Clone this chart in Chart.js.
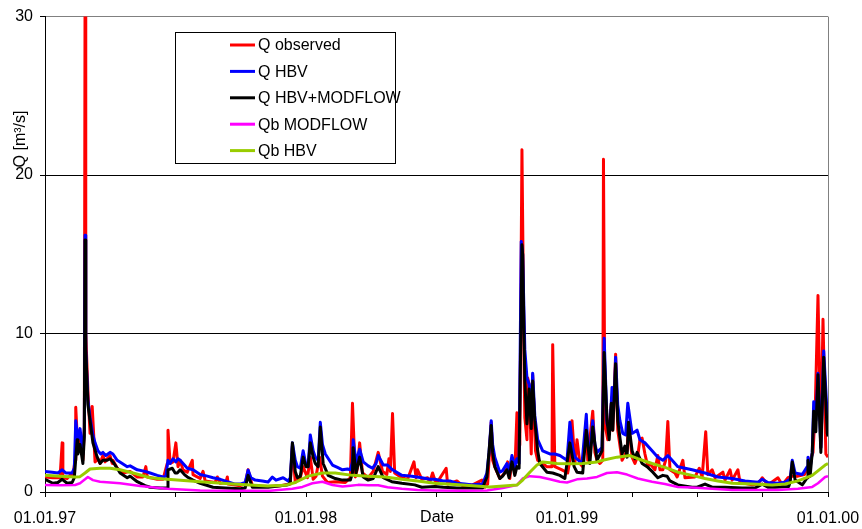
<!DOCTYPE html>
<html>
<head>
<meta charset="utf-8">
<script src="https://cdn.jsdelivr.net/npm/chart.js@4"></script>
<style>
  html, body { margin: 0; padding: 0; background: #fff; }
  #wrap { width: 862px; height: 529px; position: relative; }
</style>
</head>
<body>
<div id="wrap"><canvas id="runoff-chart"></canvas></div>
<script>
'use strict';

/* days counted from 01.01.97 */
const xTickDays   = [0, 91, 182, 274, 365, 456, 547, 639, 730, 821, 912, 1004, 1095];
const xTickLabels = ['01.01.97', '', '', '', '01.01.98', '', '', '', '01.01.99', '', '', '', '01.01.00'];
const yTickValues = [0, 10, 20, 30];

const seriesNames  = ['Q observed', 'Q HBV', 'Q HBV+MODFLOW', 'Qb MODFLOW', 'Qb HBV'];
const seriesColors = ['#ff0000', '#0000ff', '#000000', '#ff00ff', '#99cc00'];

// [day, m3/s]
const qObserved = [
    [0,0.95],[11,0.9],[21,0.9],[24,3.1],[25,0.9],[31,0.85],[38,1.2],[39,1.0],[42,2.0],[43,5.35],[46,2.6],[49,3.7],
    [53,2.0],[55,4.0],[56,31],[57,10],[60,6.4],[63,3.7],[66,5.4],[69,2.8],[70,1.9],[74,2.1],[77,1.8],[81,2.3],
    [84,1.9],[87,2.1],[91,2.3],[94,1.8],[95,2.0],[101,1.5],[109,1.2],[119,1.3],[129,0.95],[137,0.95],[141,1.6],
    [143,0.95],[157,0.8],[165,0.8],[171,1.8],[172,3.9],[175,1.8],[179,1.9],[183,3.1],[186,1.6],[189,2.0],[193,1.4],
    [199,1.25],[206,2.0],[207,1.1],[217,0.85],[221,1.3],[224,0.7],[238,0.6],[241,0.95],[245,0.55],[253,0.6],
    [255,0.95],[256,0.5],[273,0.4],[280,0.5],[284,1.4],[290,0.4],[312,0.35],[329,0.4],[343,0.5],[346,2.9],
    [350,0.6],[357,0.9],[361,1.6],[367,0.9],[371,2.2],[375,0.8],[379,1.0],[384,2.2],[388,1.0],[395,0.6],
    [406,0.65],[420,0.6],[427,0.9],[430,5.6],[434,0.95],[437,1.5],[440,3.1],[444,1.2],[452,0.9],[459,1.3],
    [466,2.5],[472,1.3],[478,1.1],[481,2.1],[483,1.3],[486,4.95],[489,1.2],[499,0.9],[507,0.8],[516,1.9],
    [519,0.9],[521,1.4],[527,0.8],[535,0.9],[538,0.6],[542,1.2],[547,0.5],[561,1.5],[563,0.5],[576,0.7],
    [584,0.4],[598,0.45],[611,0.75],[615,0.3],[619,0.5],[624,4.4],[626,2.0],[629,1.6],[636,0.85],[643,1.2],
    [647,1.9],[650,0.85],[653,2.1],[657,1.2],[660,5.0],[661,2.1],[664,3.0],[667,21.6],[670,8.0],[671,4.7],
    [674,3.3],[675,7.2],[677,6.8],[680,2.4],[682,7.4],[686,2.6],[689,2.0],[702,1.6],[709,1.6],[710,9.3],
    [713,1.6],[723,1.4],[731,1.2],[734,2.0],[737,4.5],[741,1.8],[744,3.3],[748,1.8],[752,1.6],[757,4.5],
    [759,2.0],[766,5.1],[769,2.5],[772,2.0],[776,1.8],[780,2.0],[781,21.0],[783,4.3],[787,3.3],[793,6.0],
    [794,3.9],[798,8.7],[801,3.9],[807,2.0],[814,2.6],[816,4.3],[821,2.2],[825,1.8],[829,2.3],[832,3.3],
    [835,3.4],[839,2.4],[843,1.6],[846,1.8],[853,1.4],[857,2.3],[860,1.4],[864,1.4],[868,2.0],[871,4.45],
    [874,1.4],[881,1.2],[884,0.95],[892,2.0],[895,0.9],[909,0.95],[915,1.5],[919,0.95],[924,3.8],[927,1.1],
    [933,1.4],[937,0.9],[948,1.25],[951,0.75],[958,1.4],[961,0.75],[969,1.4],[972,0.6],[989,0.45],[997,0.5],
    [1003,0.9],[1011,0.45],[1025,0.9],[1031,0.45],[1039,0.9],[1045,1.0],[1053,1.0],[1062,1.1],[1066,1.5],
    [1070,2.0],[1074,2.5],[1077,5.0],[1081,12.4],[1085,2.8],[1088,10.9],[1092,2.4],[1095,2.2]
];

const qHbv = [
    [0,1.3],[10,1.25],[18,1.2],[24,1.4],[29,1.2],[38,1.2],[41,1.5],[43,4.5],[46,3.3],[49,4.0],[53,2.4],[55,4.0],
    [56,16.2],[57,9.0],[60,5.8],[63,4.7],[67,3.6],[70,3.1],[74,2.6],[78,2.4],[81,2.5],[85,2.3],[88,2.4],[91,2.5],
    [95,2.4],[101,2.0],[108,1.8],[115,1.6],[119,1.65],[129,1.4],[140,1.3],[147,1.2],[157,1.05],[165,0.95],
    [169,1.0],[172,2.0],[175,1.8],[179,2.1],[183,1.9],[186,2.1],[189,2.0],[195,1.7],[199,1.5],[207,1.4],
    [217,1.1],[227,1.0],[235,0.9],[245,0.8],[255,0.65],[266,0.5],[273,0.5],[280,0.6],[284,1.38],[288,0.9],
    [294,0.75],[304,0.7],[312,0.63],[318,0.94],[323,0.75],[333,0.9],[340,0.7],[343,0.9],[346,3.1],[350,2.0],
    [353,1.6],[357,1.5],[361,2.6],[365,1.7],[368,1.6],[371,3.6],[375,2.6],[378,2.2],[382,2.0],[385,4.4],
    [388,3.0],[392,2.4],[402,1.7],[409,1.55],[416,1.4],[423,1.45],[427,1.4],[430,1.9],[431,3.3],[435,1.9],
    [440,2.7],[445,1.9],[452,1.65],[458,1.5],[463,1.8],[466,2.3],[473,1.7],[479,1.7],[486,1.4],[499,1.05],
    [513,1.0],[527,0.9],[538,0.8],[545,0.8],[557,0.7],[566,0.7],[576,0.55],[587,0.5],[598,0.45],[612,0.5],
    [618,1.2],[621,2.5],[624,4.5],[626,3.0],[629,2.2],[636,1.25],[640,1.35],[646,1.8],[649,1.25],[653,2.3],
    [657,1.6],[660,2.1],[663,1.8],[666,15.8],[668,15.0],[671,9.0],[674,7.2],[677,6.8],[680,5.0],[682,7.5],
    [685,4.8],[689,3.3],[696,2.6],[706,2.4],[713,2.4],[720,2.3],[730,2.0],[734,4.4],[738,2.8],[741,2.2],
    [751,1.8],[757,4.9],[759,3.0],[762,2.6],[766,4.5],[769,3.0],[772,2.5],[779,2.8],[782,9.7],[786,4.3],
    [790,3.9],[793,6.6],[796,5.8],[798,8.5],[801,5.5],[804,4.5],[808,3.7],[812,3.6],[815,5.6],[821,3.7],
    [825,3.8],[828,3.9],[832,3.3],[839,3.1],[849,2.6],[857,2.2],[864,2.0],[871,2.3],[877,2.0],[885,1.6],
    [895,1.5],[905,1.4],[923,1.2],[941,0.95],[961,0.85],[979,0.7],[997,0.62],[1003,0.8],[1011,0.6],
    [1025,0.55],[1035,0.62],[1042,0.8],[1045,2.0],[1049,1.2],[1059,1.1],[1066,1.6],[1067,2.2],[1070,1.5],
    [1073,2.5],[1075,5.7],[1078,4.5],[1081,7.5],[1085,2.8],[1089,8.9],[1094,4.7],[1095,4.0]
];

const qHbvModflow = [
    [0,0.8],[11,0.55],[18,0.6],[24,0.8],[31,0.55],[38,0.6],[41,0.9],[45,3.3],[46,2.4],[49,3.0],[53,1.8],[55,3.5],
    [56,15.9],[57,9.0],[60,5.5],[63,4.5],[67,3.1],[73,2.2],[77,1.8],[81,2.0],[87,2.0],[91,2.1],[95,1.9],
    [101,1.5],[105,1.2],[115,0.9],[119,1.0],[129,0.65],[140,0.4],[147,0.3],[161,0.25],[171,0.25],[172,1.4],
    [178,1.5],[182,1.2],[185,1.2],[189,1.4],[195,1.1],[199,0.95],[207,0.75],[217,0.55],[235,0.3],[252,0.25],
    [273,0.2],[280,0.25],[284,1.05],[290,0.3],[301,0.3],[312,0.3],[329,0.4],[340,0.45],[343,0.6],[346,3.1],
    [350,1.3],[353,0.9],[357,1.0],[361,2.2],[365,1.6],[368,1.6],[371,3.1],[375,2.2],[378,1.8],[382,1.6],
    [385,4.1],[389,1.8],[396,1.05],[406,0.85],[416,0.75],[427,0.75],[430,1.2],[431,2.8],[435,1.2],[440,2.2],
    [445,0.95],[452,0.75],[459,0.85],[466,1.6],[473,0.9],[485,0.65],[499,0.55],[517,0.45],[527,0.3],
    [545,0.35],[557,0.3],[576,0.25],[594,0.25],[612,0.25],[618,0.95],[624,4.2],[626,2.5],[629,1.6],
    [636,0.85],[640,1.0],[646,1.4],[649,0.9],[653,1.9],[657,1.05],[660,1.6],[663,1.5],[667,15.6],[668,15.0],
    [671,7.0],[674,4.3],[677,6.5],[680,4.0],[682,7.0],[685,4.5],[689,2.6],[692,1.8],[702,1.25],[710,1.2],
    [720,1.05],[727,0.85],[734,3.1],[740,1.6],[744,1.25],[752,1.2],[757,3.9],[762,1.8],[766,4.1],[772,2.0],
    [779,2.6],[782,8.8],[786,4.5],[789,3.3],[792,5.6],[794,3.9],[798,8.1],[801,4.5],[807,2.4],[811,2.9],
    [814,2.2],[816,4.4],[821,2.6],[825,2.1],[828,2.5],[832,2.1],[835,1.8],[842,1.6],[850,1.25],[857,0.9],
    [864,1.05],[870,1.0],[874,0.7],[885,0.45],[905,0.3],[912,0.3],[923,0.5],[933,0.3],[951,0.3],[975,0.25],
    [993,0.25],[1003,0.5],[1011,0.3],[1021,0.3],[1040,0.35],[1042,0.6],[1045,1.9],[1049,0.75],[1059,0.45],
    [1066,0.9],[1067,2.0],[1070,1.0],[1073,2.5],[1075,5.1],[1078,3.8],[1081,7.4],[1085,2.5],[1089,8.5],
    [1094,3.7],[1095,3.5]
];

const qbModflow = [
    [0,0.44],[21,0.42],[42,0.44],[49,0.55],[56,0.8],[60,0.95],[67,0.75],[77,0.65],[105,0.55],[133,0.38],
    [171,0.2],[217,0.1],[263,0.08],[315,0.08],[346,0.2],[360,0.32],[374,0.55],[388,0.65],[402,0.44],
    [416,0.35],[427,0.4],[438,0.45],[452,0.42],[466,0.42],[479,0.3],[499,0.2],[521,0.13],[545,0.1],
    [584,0.08],[618,0.1],[640,0.25],[660,0.44],[668,0.85],[678,1.0],[692,0.95],[706,0.8],[720,0.65],
    [730,0.6],[744,0.8],[758,0.85],[772,0.95],[786,1.2],[800,1.25],[814,1.1],[829,0.85],[849,0.65],
    [867,0.5],[885,0.32],[905,0.28],[933,0.2],[961,0.13],[997,0.12],[1025,0.13],[1053,0.2],[1073,0.32],
    [1081,0.55],[1091,0.95],[1095,1.0]
];

const qbHbv = [
    [0,1.05],[21,1.0],[42,0.95],[49,0.97],[56,1.2],[63,1.45],[77,1.5],[91,1.5],[105,1.4],[123,1.2],[147,0.9],
    [171,0.8],[217,0.65],[263,0.5],[311,0.38],[336,0.42],[350,0.6],[368,1.0],[388,1.2],[406,1.2],[430,1.05],
    [452,1.0],[476,0.95],[499,0.8],[521,0.7],[545,0.55],[584,0.44],[622,0.32],[660,0.44],[668,0.75],
    [678,1.25],[688,1.7],[696,1.9],[716,1.8],[734,1.78],[752,1.8],[772,1.9],[780,2.0],[800,2.2],[818,2.3],
    [829,2.1],[849,1.8],[867,1.55],[885,1.25],[905,1.05],[923,0.85],[941,0.7],[961,0.55],[989,0.5],
    [1017,0.44],[1035,0.5],[1053,0.7],[1073,1.05],[1091,1.7],[1095,1.8]
];

const FONT = 'Liberation Sans, Arial, sans-serif';

const toPoints = arr => arr.map(([x, y]) => ({ x, y }));

const chartDecor = {
    id: 'chartDecor',
    afterDraw(chart) {
        const { ctx, chartArea: a } = chart;
        ctx.save();

        // right frame of the plot area
        ctx.strokeStyle = '#808080';
        ctx.lineWidth = 1;
        ctx.beginPath();
        ctx.moveTo(a.right + 0.5, a.top);
        ctx.lineTo(a.right + 0.5, a.bottom);
        ctx.stroke();

        ctx.fillStyle = '#000';
        ctx.font = `16px ${FONT}`;
        ctx.textAlign = 'center';
        ctx.textBaseline = 'middle';

        // axis titles
        ctx.fillText('Date', 437, 518);
        ctx.save();
        ctx.translate(21, 139);
        ctx.rotate(-Math.PI / 2);
        ctx.fillText('Q [m\u00b3/s]', 0, 0);
        ctx.restore();

        // legend box
        const bx = 175.5, by = 32.5, bw = 220, bh = 131;
        ctx.fillStyle = '#fff';
        ctx.fillRect(bx, by, bw, bh);
        ctx.strokeStyle = '#000';
        ctx.strokeRect(bx, by, bw, bh);

        ctx.textAlign = 'left';
        seriesNames.forEach((name, i) => {
            const y = 45 + i * 26.4;
            ctx.strokeStyle = seriesColors[i];
            ctx.lineWidth = 3;
            ctx.beginPath();
            ctx.moveTo(230, y);
            ctx.lineTo(255, y);
            ctx.stroke();
            ctx.fillStyle = '#000';
            ctx.fillText(name, 258, y + 1);
        });

        ctx.restore();
    },
};

const seriesData = [qObserved, qHbv, qHbvModflow, qbModflow, qbHbv];
const drawOrder  = [5, 4, 3, 2, 1];   // red at the bottom, green on top

new Chart(document.getElementById('runoff-chart').getContext('2d'), {
    type: 'line',
    data: {
        datasets: seriesData.map((d, i) => ({
            label: seriesNames[i],
            data: toPoints(d),
            borderColor: seriesColors[i],
            backgroundColor: seriesColors[i],
            borderWidth: i === 3 ? 2.5 : 3,
            borderJoinStyle: 'round',
            pointRadius: 0,
            tension: 0,
            fill: false,
            clip: 0,
            order: drawOrder[i],
        })),
    },
    options: {
        responsive: true,
        maintainAspectRatio: false,
        animation: false,
        layout: { padding: { top: 14, right: 34, left: 0, bottom: 0 } },
        plugins: {
            legend: { display: false },
            tooltip: { enabled: false },
        },
        scales: {
            x: {
                type: 'linear',
                min: 0,
                max: 1095,
                afterBuildTicks: scale => { scale.ticks = xTickDays.map(v => ({ value: v })); },
                afterFit: scale => {
                    scale.height = 37;
                    // the end labels may overhang the plot; keep the plot edges fixed
                    scale.paddingLeft = 0;
                    scale.paddingRight = 0;
                },
                grid: { drawOnChartArea: false, color: '#000', tickLength: 5 },
                border: { color: '#000', width: 1 },
                ticks: {
                    autoSkip: false,
                    maxRotation: 0,
                    padding: 12,
                    color: '#000',
                    font: { family: FONT, size: 16 },
                    callback: (v, idx) => xTickLabels[idx],
                },
            },
            y: {
                min: 0,
                max: 30,
                afterBuildTicks: scale => { scale.ticks = yTickValues.map(v => ({ value: v })); },
                afterFit: scale => { scale.width = 45; },
                grid: {
                    color: c => c.tick.value === 0 ? 'rgba(0,0,0,0)' : (c.tick.value === 30 ? '#808080' : '#000'),
                    tickColor: '#000',
                    tickLength: 5,
                },
                border: { color: '#000', width: 1 },
                ticks: {
                    padding: 7,
                    color: '#000',
                    font: { family: FONT, size: 16 },
                },
            },
        },
    },
    plugins: [chartDecor],
});
</script>
</body>
</html>
